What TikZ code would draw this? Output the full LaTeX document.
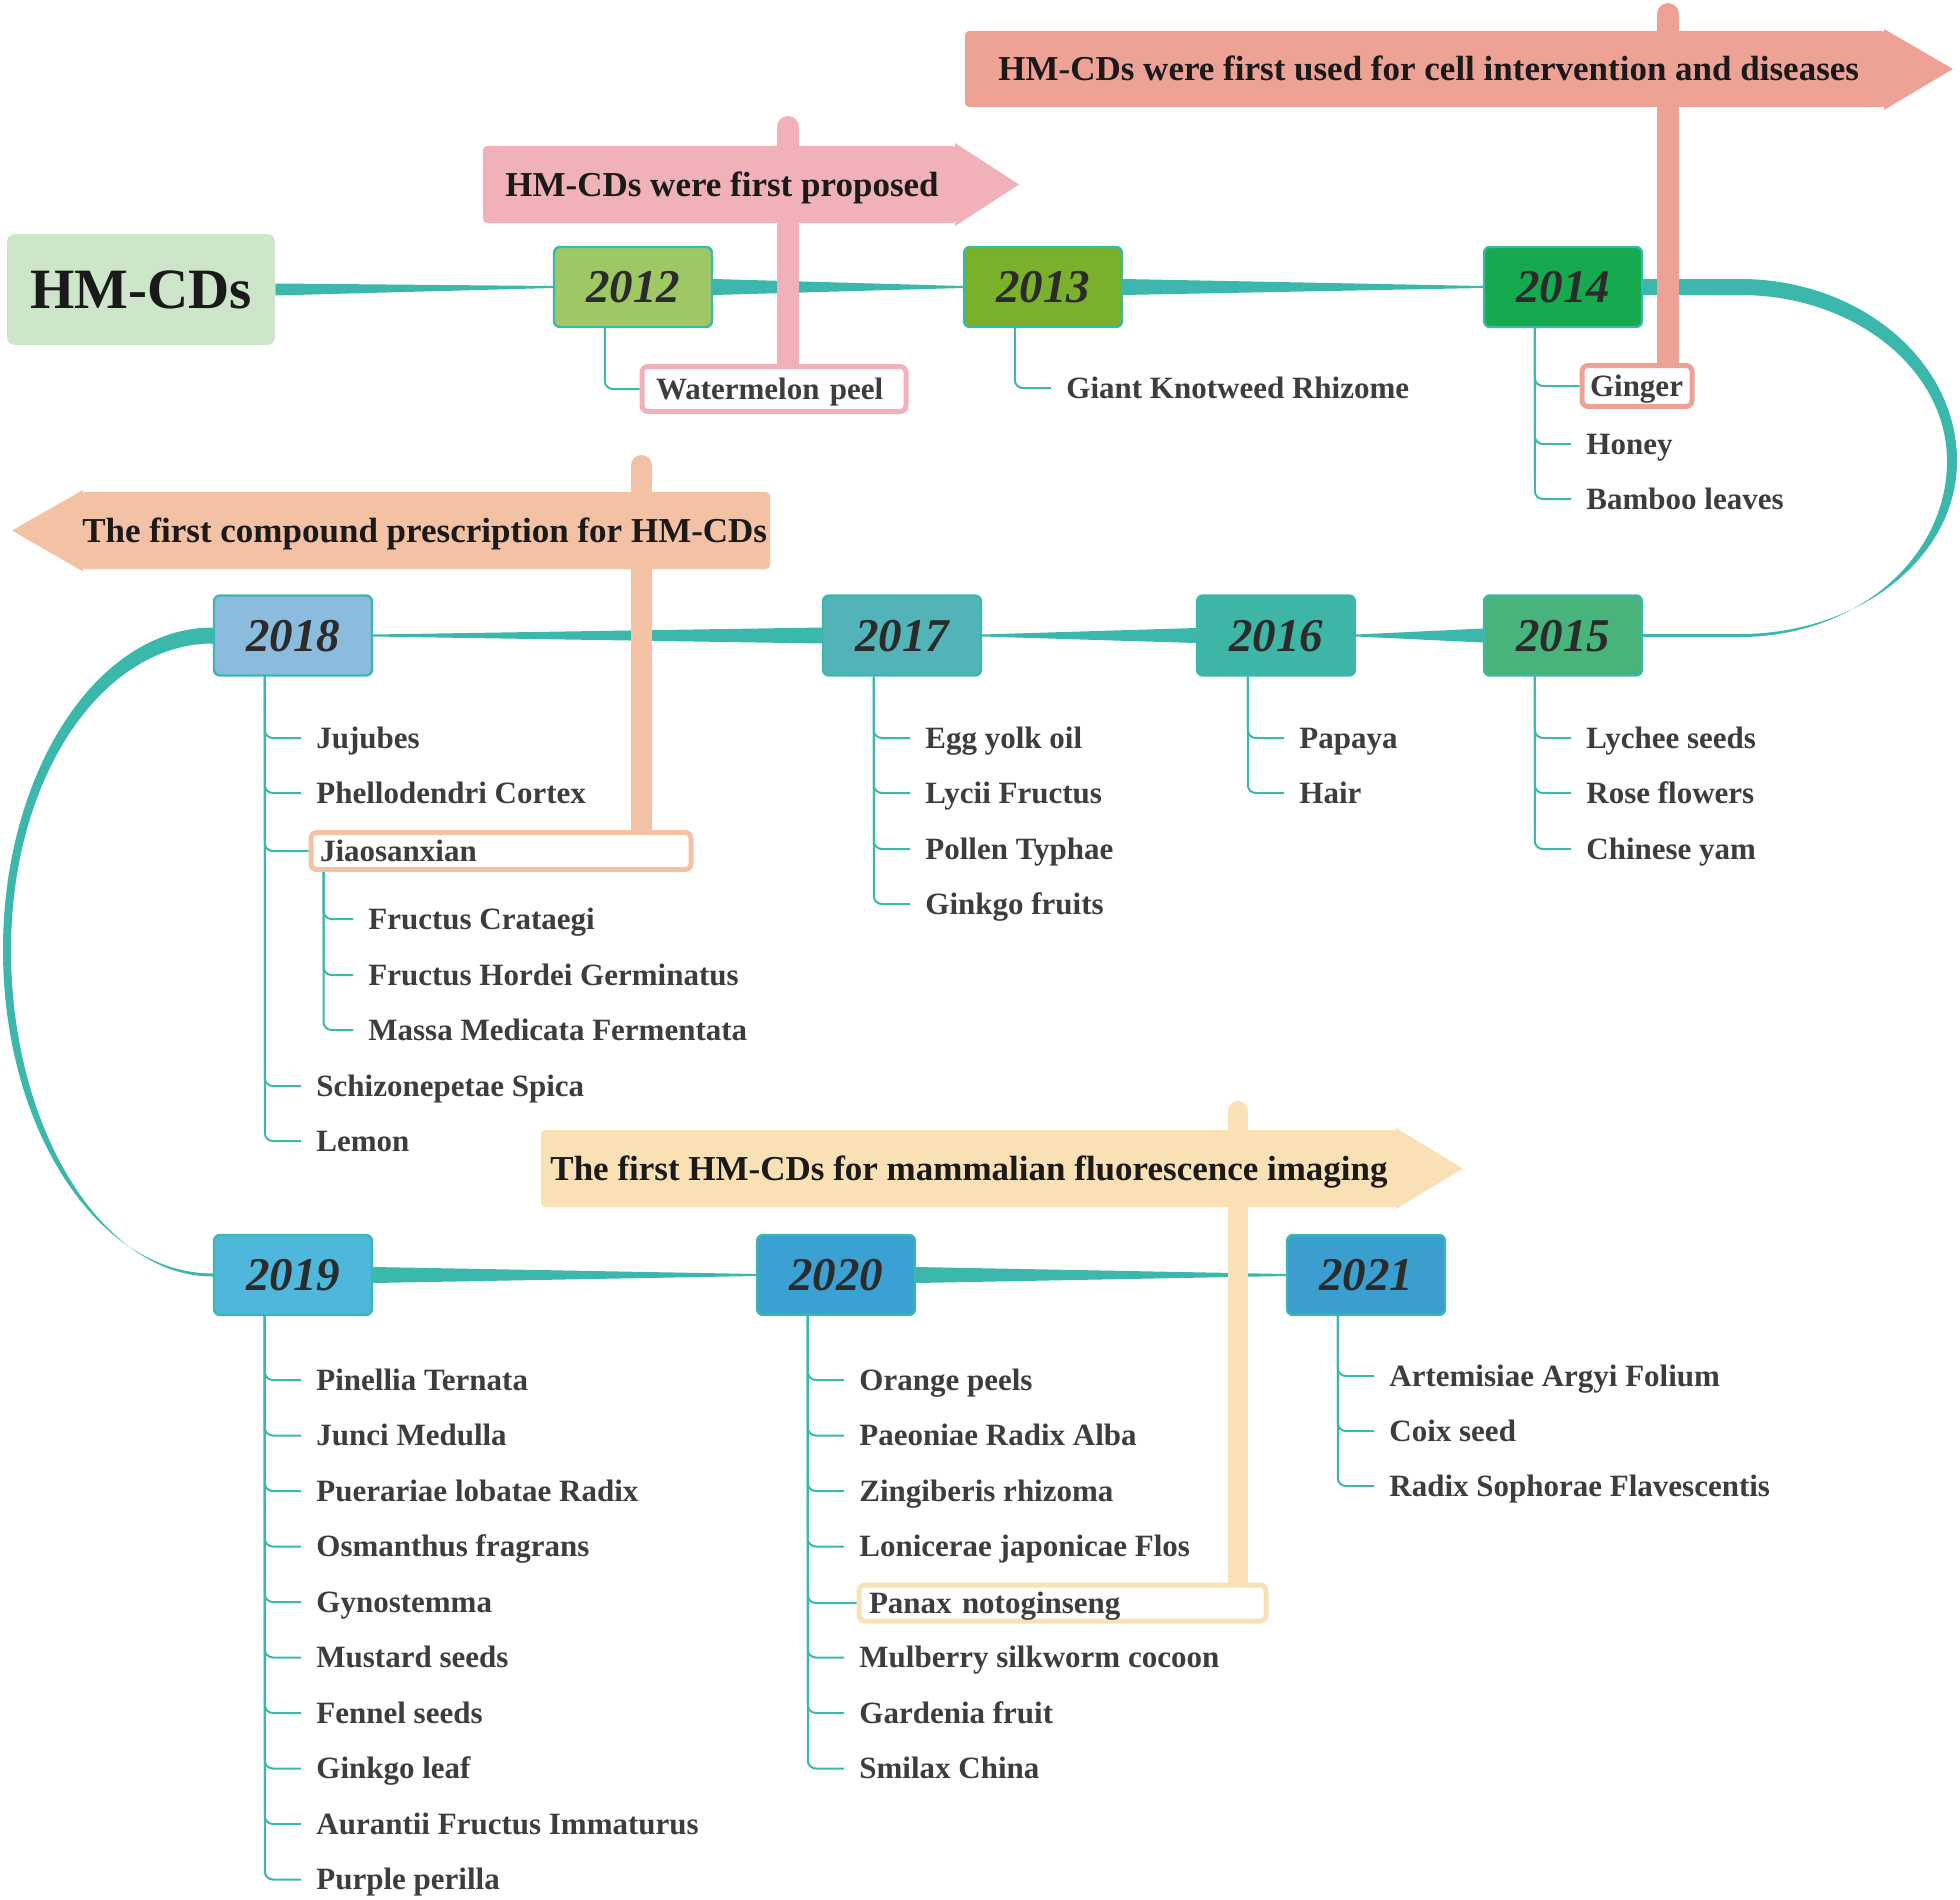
\documentclass[tikz,border=0pt]{standalone}
\usepackage{fontspec}
\setmainfont{Liberation Serif}
\usetikzlibrary{calc}
\definecolor{tealc}{HTML}{3CB7AC}
\definecolor{hmgreen}{HTML}{CDE5C8}
\definecolor{c2012}{HTML}{9FC764}
\definecolor{c2013}{HTML}{7BB02A}
\definecolor{c2014}{HTML}{16A94F}
\definecolor{c2015}{HTML}{48B37B}
\definecolor{c2016}{HTML}{3EB6A5}
\definecolor{c2017}{HTML}{52B4B8}
\definecolor{c2018}{HTML}{8BBCDD}
\definecolor{c2019}{HTML}{50B7DC}
\definecolor{c2020}{HTML}{3BA1D3}
\definecolor{c2021}{HTML}{3A9ECF}
\definecolor{bpink}{HTML}{F0B1B8}
\definecolor{bsalmon}{HTML}{EEA295}
\definecolor{bpeach}{HTML}{F3C1A3}
\definecolor{borange}{HTML}{F9E0B5}
\definecolor{itemtext}{HTML}{3D3D3D}
\definecolor{yeartext}{HTML}{2B2B2B}
\definecolor{bannertext}{HTML}{1A1A1A}
\pgfdeclarelayer{bg}
\pgfdeclarelayer{mid}
\pgfsetlayers{bg,mid,main}
\newcommand\mkitemf{\fontsize{15.5pt}{18pt}\selectfont\bfseries}
\newcommand\mkyearf{\fontsize{23.5pt}{28pt}\selectfont\bfseries\itshape}
\newcommand\mkbannerf{\fontsize{17.5pt}{21pt}\selectfont\bfseries}
\newcommand\mkhmf{\fontsize{28.5pt}{34pt}\selectfont\bfseries}
\newcommand\mkwedge[3]{\fill[tealc] ($(#1)+(0,-#3)$) -- ($(#2)+(0,-1)$) -- ($(#2)+(0,1)$) -- ($(#1)+(0,#3)$) -- cycle;}
\begin{document}
\begin{tikzpicture}[x=0.5pt,y=-0.5pt,
  hmbox/.style={fill=hmgreen, rounded corners=4pt, minimum width=134pt, minimum height=55.5pt, inner sep=0pt, font=\mkhmf, text=bannertext, text height=18.9pt, text depth=0pt},
  yearbox/.style={draw=tealc, line width=1.2pt, rounded corners=3pt, minimum width=79pt, minimum height=40pt, inner sep=0pt, font=\mkyearf, text=yeartext, text height=15.9pt, text depth=0pt},
  itm/.style={anchor=west, inner xsep=7.5pt, inner ysep=1pt, font=\mkitemf, text=itemtext, text height=10.3pt, text depth=0pt},
  bxitm/.style={itm, draw=#1, line width=2.5pt, fill=white, rounded corners=3pt, align=left},
  conn/.style={draw=tealc, line width=1pt, rounded corners=4pt},
  btext/.style={anchor=west, inner sep=0pt, font=\mkbannerf, text=bannertext, text height=11.6pt, text depth=0pt},
  polebar/.style={line cap=round}]
\useasboundingbox (0,0) rectangle (1960,1900);

% main and year nodes
\node[hmbox] (hm) at (141,289.5) {HM-CDs};
\node[yearbox, fill=c2012] (y2012) at (633,287) {2012};
\node[yearbox, fill=c2013] (y2013) at (1043,287) {2013};
\node[yearbox, fill=c2014] (y2014) at (1563,287) {2014};
\node[yearbox, fill=c2015] (y2015) at (1563,635.5) {2015};
\node[yearbox, fill=c2016] (y2016) at (1276,635.5) {2016};
\node[yearbox, fill=c2017] (y2017) at (902,635.5) {2017};
\node[yearbox, fill=c2018] (y2018) at (293,635.5) {2018};
\node[yearbox, fill=c2019] (y2019) at (293,1275) {2019};
\node[yearbox, fill=c2020] (y2020) at (836,1275) {2020};
\node[yearbox, fill=c2021] (y2021) at (1366,1275) {2021};

% boxed items
\node[bxitm=bpink, inner xsep=7pt, text width=118pt, minimum height=22.5pt] (wm) at (639.5,389) {Watermelon peel};
\node[bxitm=bsalmon, inner xsep=4pt, text width=47pt, minimum height=20.5pt] (gin) at (1579.5,386) {Ginger};
\node[bxitm=bpeach, inner xsep=4.5pt, text width=181pt, minimum height=18.5pt] (jiao) at (308.5,851) {Jiaosanxian};
\node[bxitm=borange, inner xsep=5pt, text width=193.5pt, minimum height=18pt] (pan) at (856.5,1603) {Panax notoginseng};

% plain items
\node[itm] (a13a) at (1051,388) {Giant Knotweed Rhizome};
\node[itm] (a14b) at (1571,444) {Honey};
\node[itm] (a14c) at (1571,499) {Bamboo leaves};
\node[itm] (a15a) at (1571,738) {Lychee seeds};
\node[itm] (a15b) at (1571,793) {Rose flowers};
\node[itm] (a15c) at (1571,849) {Chinese yam};
\node[itm] (a16a) at (1284,738) {Papaya};
\node[itm] (a16b) at (1284,793) {Hair};
\node[itm] (a17a) at (910,738) {Egg yolk oil};
\node[itm] (a17b) at (910,793) {Lycii Fructus};
\node[itm] (a17c) at (910,849) {Pollen Typhae};
\node[itm] (a17d) at (910,904) {Ginkgo fruits};
\node[itm] (a18a) at (301,738) {Jujubes};
\node[itm] (a18b) at (301,793) {Phellodendri Cortex};
\node[itm] (s18a) at (353,919) {Fructus Crataegi};
\node[itm] (s18b) at (353,975) {Fructus Hordei Germinatus};
\node[itm] (s18c) at (353,1030) {Massa Medicata Fermentata};
\node[itm] (a18e) at (301,1086) {Schizonepetae Spica};
\node[itm] (a18f) at (301,1141) {Lemon};
\node[itm] (a19a) at (301,1380) {Pinellia Ternata};
\node[itm] (a19b) at (301,1435.5) {Junci Medulla};
\node[itm] (a19c) at (301,1491) {Puerariae lobatae Radix};
\node[itm] (a19d) at (301,1546.5) {Osmanthus fragrans};
\node[itm] (a19e) at (301,1602) {Gynostemma};
\node[itm] (a19f) at (301,1657.5) {Mustard seeds};
\node[itm] (a19g) at (301,1713) {Fennel seeds};
\node[itm] (a19h) at (301,1768.5) {Ginkgo leaf};
\node[itm] (a19i) at (301,1824) {Aurantii Fructus Immaturus};
\node[itm] (a19j) at (301,1879.5) {Purple perilla};
\node[itm] (a20a) at (844,1380) {Orange peels};
\node[itm] (a20b) at (844,1435.5) {Paeoniae Radix Alba};
\node[itm] (a20c) at (844,1491) {Zingiberis rhizoma};
\node[itm] (a20d) at (844,1546.5) {Lonicerae japonicae Flos};
\node[itm] (a20f) at (844,1657.5) {Mulberry silkworm cocoon};
\node[itm] (a20g) at (844,1713) {Gardenia fruit};
\node[itm] (a20h) at (844,1768.5) {Smilax China};
\node[itm] (a21a) at (1374,1376) {Artemisiae Argyi Folium};
\node[itm] (a21b) at (1374,1431) {Coix seed};
\node[itm] (a21c) at (1374,1486) {Radix Sophorae Flavescentis};

% banner texts
\node[btext] (t1) at (505,184.5) {HM-CDs were first proposed};
\node[btext] (t2) at (998,69) {HM-CDs were first used for cell intervention and diseases};
\node[btext] (t3) at (82,530.5) {The first compound prescription for HM-CDs};
\node[btext] (t4) at (550,1168.5) {The first HM-CDs for mammalian fluorescence imaging};

% item connectors
\draw[conn] ($(y2012.south west)+(52,0)$) |- (wm.west);
\draw[conn] ($(y2013.south west)+(52,0)$) |- (a13a.west);
\foreach \t in {gin,a14b,a14c}{\draw[conn] ($(y2014.south west)+(52,0)$) |- (\t.west);}
\foreach \t in {a15a,a15b,a15c}{\draw[conn] ($(y2015.south west)+(52,0)$) |- (\t.west);}
\foreach \t in {a16a,a16b}{\draw[conn] ($(y2016.south west)+(52,0)$) |- (\t.west);}
\foreach \t in {a17a,a17b,a17c,a17d}{\draw[conn] ($(y2017.south west)+(52,0)$) |- (\t.west);}
\foreach \t in {a18a,a18b,jiao,a18e,a18f}{\draw[conn] ($(y2018.south west)+(52,0)$) |- (\t.west);}
\foreach \t in {s18a,s18b,s18c}{\draw[conn] ($(jiao.south west)+(15,0)$) |- (\t.west);}
\foreach \t in {a19a,a19b,a19c,a19d,a19e,a19f,a19g,a19h,a19i,a19j}{\draw[conn] ($(y2019.south west)+(52,0)$) |- (\t.west);}
\foreach \t in {a20a,a20b,a20c,a20d,pan,a20f,a20g,a20h}{\draw[conn] ($(y2020.south west)+(52,0)$) |- (\t.west);}
\foreach \t in {a21a,a21b,a21c}{\draw[conn] ($(y2021.south west)+(52,0)$) |- (\t.west);}

% tapered timeline connectors
\begin{pgfonlayer}{bg}
\mkwedge{hm.east}{y2012.west}{6}
\mkwedge{y2012.east}{y2013.west}{8}
\mkwedge{y2013.east}{y2014.west}{8}
\mkwedge{y2015.west}{y2016.east}{7}
\mkwedge{y2016.west}{y2017.east}{7.5}
\mkwedge{y2017.west}{y2018.east}{8}
\mkwedge{y2019.east}{y2020.west}{8}
\mkwedge{y2020.east}{y2021.west}{8}
\fill[tealc] ($(y2014.east)+(0,-8)$) -- (1740,279) .. controls (1860,279) and (1957,361) .. (1957,461)
  .. controls (1957,557) and (1860,634) .. (1740,634) -- ($(y2015.east)+(0,-1.5)$) -- ($(y2015.east)+(0,1.5)$)
  -- (1740,637) .. controls (1855,637) and (1947,559) .. (1947,461)
  .. controls (1947,370) and (1855,295) .. (1740,295) -- ($(y2014.east)+(0,8)$) -- cycle;
\fill[tealc] ($(y2018.west)+(0,-8)$) .. controls (97,627.5) and (3,772) .. (3,950)
  .. controls (3,1128) and (97,1273.5) .. ($(y2019.west)+(0,-1.5)$) -- ($(y2019.west)+(0,1.5)$)
  .. controls (102,1276.5) and (11,1128) .. (11,950)
  .. controls (11,776) and (103,643.5) .. ($(y2018.west)+(0,8)$) -- cycle;
\end{pgfonlayer}

% banners and poles
\begin{pgfonlayer}{mid}
\fill[bpink, rounded corners=2pt] (483,146) rectangle (957,223);
\fill[bpink] (955,143) -- (1019,184.5) -- (955,226) -- cycle;
\fill[bsalmon, rounded corners=2pt] (965,31) rectangle (1886,107);
\fill[bsalmon] (1884,29) -- (1953,69) -- (1884,110) -- cycle;
\fill[bpeach, rounded corners=2pt] (81,492) rectangle (770,569);
\fill[bpeach] (83,490) -- (12,530.5) -- (83,571.5) -- cycle;
\fill[borange, rounded corners=2pt] (541,1130) rectangle (1398,1207);
\fill[borange] (1396,1128) -- (1463,1168.5) -- (1396,1209) -- cycle;
\coordinate (p1) at (788,127);
\coordinate (p2) at (1668,14);
\coordinate (p3) at (641.5,465.5);
\coordinate (p4) at (1238,1111);
\draw[polebar, bpink, line width=11pt] (p1) -- (p1 |- wm.north);
\draw[polebar, bsalmon, line width=11pt] (p2) -- (p2 |- gin.north);
\draw[polebar, bpeach, line width=10.5pt] (p3) -- (p3 |- jiao.north);
\draw[polebar, borange, line width=10pt] (p4) -- (p4 |- pan.north);
\end{pgfonlayer}
\end{tikzpicture}
\end{document}
